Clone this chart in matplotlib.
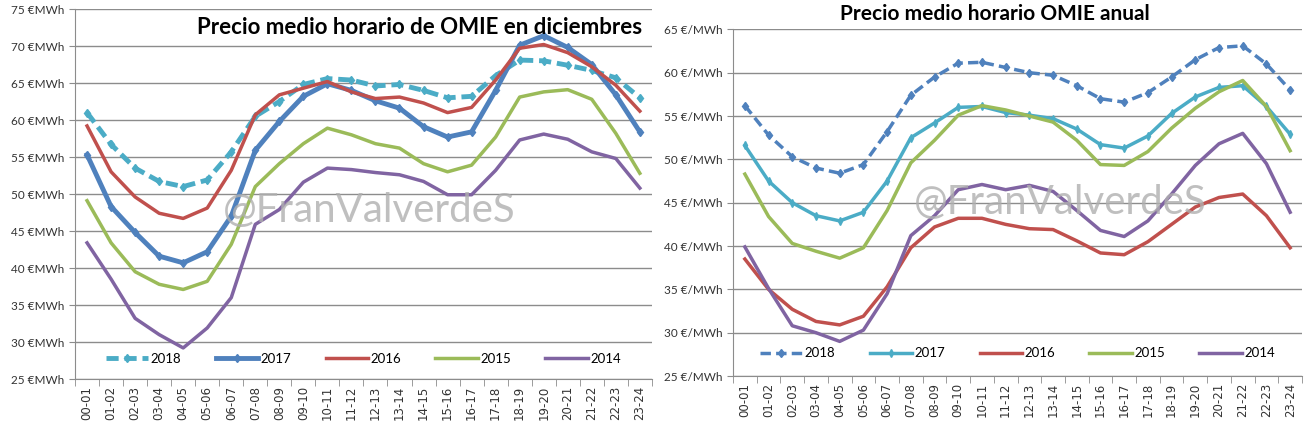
import matplotlib as mpl
import matplotlib.pyplot as plt
import numpy as np

# %% Data
horas = ['00-01', '01-02', '02-03', '03-04', '04-05', '05-06', '06-07', '07-08',
         '08-09', '09-10', '10-11', '11-12', '12-13', '13-14', '14-15', '15-16',
         '16-17', '17-18', '18-19', '19-20', '20-21', '21-22', '22-23', '23-24']
anios = ['2018', '2017', '2016', '2015', '2014']

# Precio medio horario en diciembres
dic_2018 = [61.0, 56.7, 53.5, 51.7, 51.0, 51.9, 55.7, 60.5, 62.5, 64.8, 65.6, 65.4,
            64.6, 64.8, 64.0, 63.0, 63.2, 66.0, 68.1, 68.0, 67.4, 66.7, 65.7, 63.0]
dic_2017 = [55.3, 48.3, 44.8, 41.6, 40.7, 42.2, 47.0, 55.9, 59.8, 63.2, 64.9, 64.0,
            62.6, 61.6, 59.1, 57.7, 58.4, 64.0, 70.1, 71.4, 69.8, 67.5, 63.4, 58.4]
dic_2016 = [59.2, 53.0, 49.6, 47.4, 46.7, 48.1, 53.2, 60.7, 63.4, 64.3, 65.2, 63.8,
            62.9, 63.1, 62.3, 61.0, 61.7, 65.4, 69.7, 70.2, 69.1, 67.2, 64.7, 61.2]
dic_2015 = [49.1, 43.4, 39.5, 37.8, 37.1, 38.2, 43.2, 51.0, 54.1, 56.8, 58.9, 58.0,
            56.8, 56.2, 54.1, 53.0, 53.9, 57.7, 63.1, 63.8, 64.1, 62.8, 58.2, 52.8]
dic_2014 = [43.4, 38.5, 33.2, 31.0, 29.2, 31.9, 36.0, 45.9, 47.9, 51.6, 53.5, 53.3,
            52.9, 52.6, 51.7, 49.9, 49.9, 53.2, 57.3, 58.1, 57.4, 55.7, 54.8, 50.8]

# Precio medio horario anual
anual_2018 = [56.2, 52.8, 50.3, 49.0, 48.4, 49.4, 53.2, 57.4, 59.5, 61.1, 61.2, 60.6,
              60.0, 59.7, 58.5, 57.0, 56.6, 57.7, 59.5, 61.5, 62.9, 63.1, 61.0, 58.0]
anual_2017 = [51.6, 47.5, 45.0, 43.5, 42.9, 43.9, 47.5, 52.5, 54.2, 56.0, 56.1, 55.4,
              55.1, 54.7, 53.5, 51.7, 51.3, 52.7, 55.3, 57.2, 58.3, 58.5, 56.1, 52.9]
anual_2016 = [38.5, 35.0, 32.7, 31.3, 30.9, 31.9, 35.3, 39.8, 42.2, 43.2, 43.2, 42.5,
              42.0, 41.9, 40.6, 39.2, 39.0, 40.5, 42.5, 44.5, 45.6, 46.0, 43.5, 39.8]
anual_2015 = [48.3, 43.4, 40.3, 39.4, 38.6, 39.8, 44.1, 49.6, 52.2, 55.1, 56.2, 55.7,
              55.0, 54.3, 52.2, 49.4, 49.3, 50.9, 53.6, 55.9, 57.8, 59.1, 56.1, 51.0]
anual_2014 = [39.9, 35.1, 30.8, 30.0, 29.0, 30.3, 34.5, 41.2, 43.5, 46.5, 47.1, 46.5,
              47.0, 46.3, 44.1, 41.8, 41.1, 42.9, 46.0, 49.3, 51.8, 53.0, 49.5, 43.9]

# %% Style
plt.rcParams['font.family'] = ['Lato', 'DejaVu Sans']
azul = '#4F81BD'
rojo = '#C0504D'
verde = '#9BBB59'
morado = '#8064A2'
aqua = '#4BACC6'
gris = '#8c8c8c'

fig = plt.figure(figsize=(13.05, 4.23), dpi=100)
ax1 = fig.add_axes([0.0575, 0.104, 0.442, 0.8747])
ax2 = fig.add_axes([0.5617, 0.111, 0.436, 0.8196])
x = np.arange(len(horas))


def estilo(ax, ymin, ymax, fmt):
    ax.set_xlim(-0.5, len(horas) - 0.5)
    ax.set_ylim(ymin, ymax)
    ax.set_yticks(np.arange(ymin, ymax + 1, 5))
    ax.set_yticklabels([fmt.format(v) for v in range(ymin, ymax + 1, 5)])
    ax.set_xticks(x)
    ax.set_xticklabels(horas, rotation=90, fontsize=8.5, family='DejaVu Sans',
                       color='#333333')
    ax.set_xticks(np.arange(-0.5, len(horas), 1), minor=True)
    ax.tick_params(axis='x', which='major', length=0, pad=5)
    ax.tick_params(axis='x', which='minor', length=5, color=gris)
    ax.tick_params(axis='y', length=4, color=gris, labelsize=8.5,
                   labelcolor='#333333')
    ax.grid(axis='y', color=gris, linewidth=1)
    ax.set_axisbelow(True)
    for s in ['top', 'right']:
        ax.spines[s].set_visible(False)
    for s in ['left', 'bottom']:
        ax.spines[s].set_color(gris)


leg_kw = dict(loc='center', ncol=5, frameon=False, fontsize=9.5, numpoints=1,
              handlelength=3.2, columnspacing=2.6, handletextpad=0.2)
marca = dict(ha='center', va='center', fontsize=29, color='#b0b0b0', alpha=0.8,
             zorder=10)

# %% Left: diciembres
estilo(ax1, 25, 75, '{} €MWh')
ax1.plot(x, dic_2018, color=aqua, lw=3.5, ls=(0, (2.5, 1.2)), marker='d', ms=4.5,
         label=anios[0])
ax1.plot(x, dic_2017, color=azul, lw=3.5, marker='d', ms=4.5, label=anios[1])
ax1.plot(x, dic_2016, color=rojo, lw=2.5, label=anios[2])
ax1.plot(x, dic_2015, color=verde, lw=2.5, label=anios[3])
ax1.plot(x, dic_2014, color=morado, lw=2.5, label=anios[4])
ax1.text(0.983, 0.95, 'Precio medio horario de OMIE en diciembres',
         transform=ax1.transAxes, ha='right', va='center', fontsize=16,
         fontweight='bold', color='black')
ax1.text(0.51, 0.455, '@FranValverdeS', transform=ax1.transAxes, **marca)
ax1.legend(bbox_to_anchor=(0.5, 0.055), **leg_kw)

# %% Right: anual
estilo(ax2, 25, 65, '{} €/MWh')
ax2.plot(x, anual_2018, color=azul, lw=2.5, ls=(0, (3, 1.5)), marker='d', ms=4.5,
         label=anios[0])
ax2.plot(x, anual_2017, color=aqua, lw=2.5, marker='d', ms=4, label=anios[1])
ax2.plot(x, anual_2016, color=rojo, lw=2.5, label=anios[2])
ax2.plot(x, anual_2015, color=verde, lw=2.5, label=anios[3])
ax2.plot(x, anual_2014, color=morado, lw=2.5, label=anios[4])
fig.text(0.7625, 0.966, 'Precio medio horario OMIE anual', ha='center',
         va='center', fontsize=15, fontweight='bold', color='black')
ax2.text(0.575, 0.50, '@FranValverdeS', transform=ax2.transAxes, **marca)
ax2.legend(bbox_to_anchor=(0.5, 0.066), **leg_kw)

plt.savefig('out.png', dpi=100)
